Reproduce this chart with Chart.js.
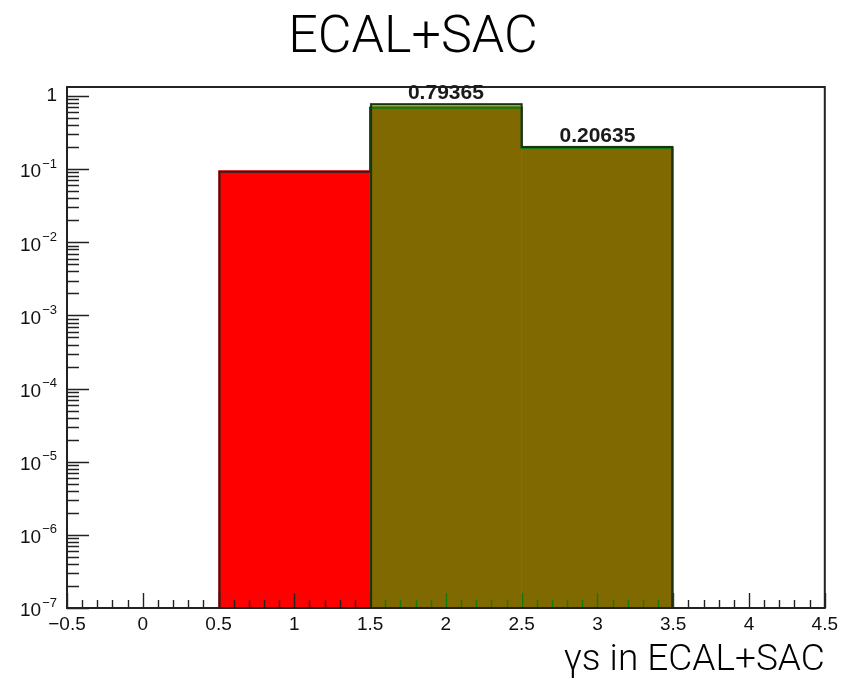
<!DOCTYPE html>
<html>
<head>
<meta charset="utf-8">
<script src="https://cdn.jsdelivr.net/npm/chart.js@4/dist/chart.umd.min.js"></script>
<style>
  html, body { margin: 0; padding: 0; background: #fff; }
  #wrap { width: 843px; height: 685px; }
</style>
</head>
<body>
<div id="wrap"><canvas id="c" width="843" height="685"></canvas></div>
<script>
// Histogram contents: bin centres and bin heights
const redBins = [1, 2, 3];
const redValues = [0.0952, 0.714, 0.2];
const greenBins = [2, 3];
const greenValues = [0.79365, 0.20635];

// Axis labelling
const xTickValues = [-0.5, 0, 0.5, 1, 1.5, 2, 2.5, 3, 3.5, 4, 4.5];
const xTickLabels = ['\u22120.5', '0', '0.5', '1', '1.5', '2', '2.5', '3', '3.5', '4', '4.5'];
const yDecadeExponents = [0, -1, -2, -3, -4, -5, -6, -7];
const chartTitle = 'ECAL+SAC';
const xAxisTitle = '\u03b3s in ECAL+SAC';

const X_MIN = -0.5, X_MAX = 4.5;
const Y_MIN = 1e-7, Y_MAX = 1.327;
const BIN_WIDTH = 1;

const canvas = document.getElementById('c');
const ctx = canvas.getContext('2d');

// One bin spans BIN_WIDTH along the x scale
function binThickness(context) {
  const xs = context.chart.scales.x;
  return Math.abs(xs.getPixelForValue(BIN_WIDTH) - xs.getPixelForValue(0));
}

// Histogram outline as a single step line over the bars of one dataset
function strokeStepOutline(c, bars, color) {
  const pts = bars.map(b => b.getProps(['x', 'y', 'base', 'width'], true))
                  .sort((a, b) => a.x - b.x);
  if (!pts.length) return;
  c.save();
  c.strokeStyle = color;
  c.lineWidth = 2;
  c.lineJoin = 'miter';
  c.beginPath();
  const first = pts[0];
  c.moveTo(first.x - first.width / 2 + 1, first.base);
  pts.forEach((p, i) => {
    const l = p.x - p.width / 2 + (i === 0 ? 1 : 0);
    const r = p.x + p.width / 2 - (i === pts.length - 1 ? 1 : 0);
    c.lineTo(l, p.y + 1);
    c.lineTo(r, p.y + 1);
  });
  const last = pts[pts.length - 1];
  c.lineTo(last.x + last.width / 2 - 1, last.base);
  c.stroke();
  c.restore();
}

const histOutlines = {
  id: 'histOutlines',
  afterDatasetDraw(chart, args) {
    const color = args.index === 0 ? '#1b3312' : '#222';
    strokeStepOutline(chart.ctx, chart.getDatasetMeta(args.index).data, color);
  }
};

// Ticks drawn inside the frame, before the translucent histogram is laid over them
const innerTicks = {
  id: 'innerTicks',
  beforeDatasetDraw(chart, args) {
    if (args.index !== 0) return;
    const c = chart.ctx;
    const { left, bottom } = chart.chartArea;
    const xs = chart.scales.x, ys = chart.scales.y;
    c.save();
    c.strokeStyle = '#222';
    c.lineWidth = 1.4;
    c.beginPath();
    for (let k = Math.round(X_MIN * 10); k <= Math.round(X_MAX * 10); k++) {
      const px = Math.round(xs.getPixelForValue(k / 10)) + 0.5;
      const len = (k % 5 === 0) ? 15 : 8;
      c.moveTo(px, bottom);
      c.lineTo(px, bottom - len);
    }
    for (const e of yDecadeExponents) {
      const base = Math.pow(10, e);
      const py = Math.round(ys.getPixelForValue(base)) + 0.5;
      c.moveTo(left, py);
      c.lineTo(left + 22, py);
      if (e < 0) {
        for (let m = 2; m <= 9; m++) {
          const my = Math.round(ys.getPixelForValue(m * base)) + 0.5;
          c.moveTo(left, my);
          c.lineTo(left + 12, my);
        }
      }
    }
    c.stroke();
    c.restore();
  }
};

// Frame, log-axis labels and bin-content labels
const frameAndLabels = {
  id: 'frameAndLabels',
  afterDatasetsDraw(chart) {
    const c = chart.ctx;
    const { left, right, top, bottom } = chart.chartArea;
    const ys = chart.scales.y;
    c.save();
    c.strokeStyle = '#222';
    c.lineWidth = 2;
    c.strokeRect(left, top, right - left, bottom - top);

    // y labels: 1, 10^-1 ... 10^-7
    c.fillStyle = '#111';
    c.textBaseline = 'middle';
    const rightEdge = left - 10;
    for (const e of yDecadeExponents) {
      const py = ys.getPixelForValue(Math.pow(10, e));
      if (e === 0) {
        c.font = '19px "Liberation Sans"';
        c.textAlign = 'right';
        c.fillText('1', rightEdge, py);
      } else {
        const expText = '\u2212' + String(-e);
        c.font = '13px "Liberation Sans"';
        c.textAlign = 'right';
        const expW = c.measureText(expText).width;
        c.fillText(expText, rightEdge, py - 5);
        c.font = '19px "Liberation Sans"';
        c.fillText('10', rightEdge - expW - 1, py + 3);
      }
    }

    // bin contents above the green histogram
    const meta = chart.getDatasetMeta(0);
    c.font = 'bold 21px "Liberation Sans"';
    c.textAlign = 'center';
    c.textBaseline = 'alphabetic';
    c.fillStyle = '#1a1a1a';
    meta.data.forEach((bar, i) => {
      c.fillText(String(greenValues[i]), bar.x, bar.y - 4);
    });
    c.restore();
  }
};

new Chart(ctx, {
  type: 'bar',
  data: {
    datasets: [
      {
        label: 'green',
        data: greenBins.map((x, i) => ({ x, y: greenValues[i] })),
        backgroundColor: 'rgba(0,210,0,0.5)',
        borderWidth: 0,
        barThickness: binThickness,
        grouped: false,
        order: 0
      },
      {
        label: 'red',
        data: redBins.map((x, i) => ({ x, y: redValues[i] })),
        backgroundColor: '#ff0000',
        borderWidth: 0,
        barThickness: binThickness,
        grouped: false,
        order: 1
      }
    ]
  },
  options: {
    responsive: false,
    animation: false,
    devicePixelRatio: 1,
    layout: { padding: { left: 0, right: 17, top: 0, bottom: 0 } },
    plugins: {
      legend: { display: false },
      tooltip: { enabled: false },
      title: {
        display: true,
        text: chartTitle,
        color: '#000',
        font: { family: 'Roboto', weight: '300', size: 52, lineHeight: 1.2 },
        padding: { top: 8, bottom: 16.6 }
      }
    },
    scales: {
      x: {
        type: 'linear',
        min: X_MIN,
        max: X_MAX,
        offset: false,
        grid: { display: false, drawTicks: false },
        border: { display: false },
        afterBuildTicks(scale) {
          scale.ticks = xTickValues.map(v => ({ value: v }));
        },
        ticks: {
          padding: 5,
          color: '#111',
          font: { family: 'Liberation Sans', size: 19 },
          maxRotation: 0,
          autoSkip: false,
          callback(value) {
            const i = xTickValues.indexOf(value);
            return i >= 0 ? xTickLabels[i] : '';
          }
        },
        title: {
          display: true,
          text: xAxisTitle,
          align: 'end',
          color: '#000',
          font: { family: 'Roboto', weight: '300', size: 37, lineHeight: 1.2 },
          padding: { top: 0, bottom: 2 }
        },
        afterFit(scale) { scale.height = 77; }
      },
      y: {
        type: 'logarithmic',
        min: Y_MIN,
        max: Y_MAX,
        grid: { display: false, drawTicks: false },
        border: { display: false },
        ticks: { display: false },
        afterFit(scale) { scale.width = 67; }
      }
    }
  },
  plugins: [histOutlines, innerTicks, frameAndLabels]
});
</script>
</body>
</html>
